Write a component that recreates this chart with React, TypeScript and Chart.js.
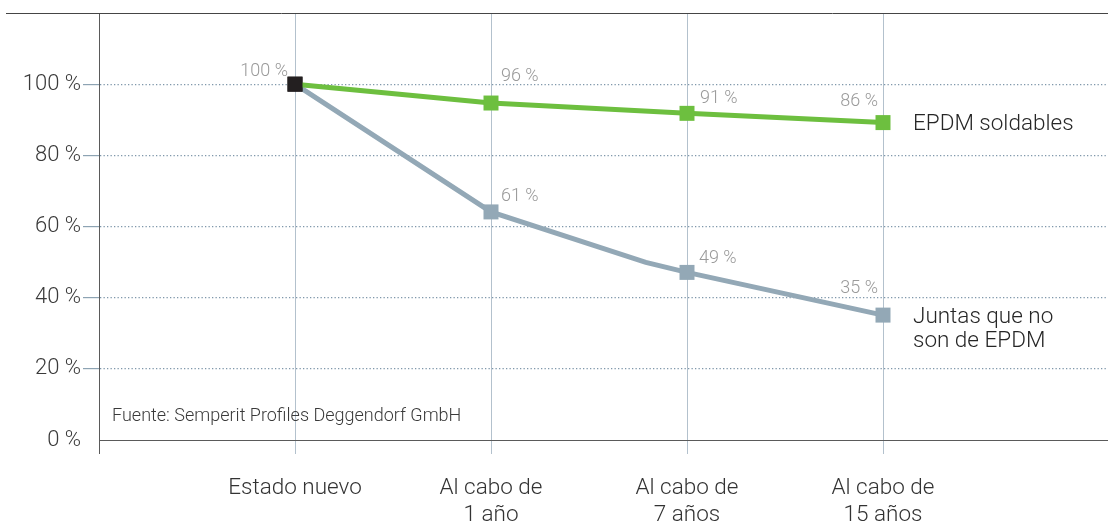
import React, { useEffect, useRef } from "react";
import { Chart, registerables } from "chart.js";

Chart.register(...registerables);

// ---------- data ----------
const categoryLabels: string[][] = [
  ["Estado nuevo"],
  ["Al cabo de", "1 año"],
  ["Al cabo de", "7 años"],
  ["Al cabo de", "15 años"],
];
const categoryPositions = [1, 2, 3, 4];

const epdmName = ["EPDM soldables"];
const epdmX = [1, 2, 3, 4];
const epdmValues = [100, 94.7, 91.8, 89.2];
const epdmValueLabels = ["100 %", "96 %", "91 %", "86 %"];

const otherName = ["Juntas que no", "son de EPDM"];
const otherX = [1, 2, 2.79, 3, 4];
const otherValues = [100, 64.1, 49.9, 47.1, 35.1];
const otherValueLabels = ["", "61 %", "", "49 %", "35 %"];
const otherHasMarker = [true, true, false, true, true];

const yTickValues = [0, 20, 40, 60, 80, 100];
const yTickLabels = ["0 %", "20 %", "40 %", "60 %", "80 %", "100 %"];

const sourceNote = "Fuente: Semperit Profiles Deggendorf GmbH";

// ---------- styles / layout ----------
const FONT = "Roboto, 'Liberation Sans', sans-serif";
const GREEN = "#6dbf3f";
const GREY = "#93a8b6";
const BLACK = "#231f20";
const DOT_GRID = "#7f97aa";
const VGRID = "#b3c1cd";
const AXIS = "#5a5a5a";

const labelPlacement: Array<Array<{ align: CanvasTextAlign; dx: number; dy: number } | null>> = [
  [
    { align: "right", dx: -7, dy: -8 },
    { align: "left", dx: 10, dy: -22 },
    { align: "left", dx: 13, dy: -10 },
    { align: "right", dx: -5, dy: -17 },
  ],
  [
    null,
    { align: "left", dx: 10, dy: -11 },
    null,
    { align: "left", dx: 12, dy: -9 },
    { align: "right", dx: -5, dy: -22 },
  ],
];

const valueLabelSets = [epdmValueLabels, otherValueLabels];
const seriesNames = [epdmName, otherName];

const annotationsPlugin = {
  id: "annotations",
  beforeDatasetsDraw(chart: any) {
    const { ctx, chartArea } = chart;
    ctx.save();
    ctx.strokeStyle = "#454545";
    ctx.lineWidth = 1;
    const y = Math.round(chartArea.top) + 0.5;
    ctx.beginPath();
    ctx.moveTo(6, y);
    ctx.lineTo(chartArea.right, y);
    ctx.stroke();

    // source note
    ctx.fillStyle = "#3a3a3a";
    ctx.font = `300 18px ${FONT}`;
    ctx.textAlign = "left";
    ctx.textBaseline = "alphabetic";
    ctx.fillText(sourceNote, chartArea.left + 13, chartArea.bottom - 19);
    ctx.restore();
  },
  afterDatasetsDraw(chart: any) {
    const { ctx } = chart;
    ctx.save();
    ctx.textBaseline = "alphabetic";
    chart.data.datasets.forEach((_ds: any, d: number) => {
      const meta = chart.getDatasetMeta(d);
      const labels = valueLabelSets[d];
      ctx.font = `300 18px ${FONT}`;
      ctx.fillStyle = "#9a9a9a";
      meta.data.forEach((pt: any, i: number) => {
        const txt = labels[i];
        const pl = labelPlacement[d][i];
        if (!txt || !pl) return;
        ctx.textAlign = pl.align;
        ctx.fillText(txt, pt.x + pl.dx, pt.y + pl.dy);
      });
      // series name
      const last = meta.data[meta.data.length - 1];
      ctx.font = `300 22.5px ${FONT}`;
      ctx.fillStyle = "#262626";
      ctx.textAlign = "left";
      seriesNames[d].forEach((line: string, k: number) => {
        ctx.fillText(line, last.x + 30, last.y + 7.5 + k * 24);
      });
    });
    ctx.restore();
  },
};

const TRANSPARENT = "rgba(0,0,0,0)";

export default function App() {
  const canvasRef = useRef<HTMLCanvasElement | null>(null);

  useEffect(() => {
    if (!canvasRef.current) return;
    const chart = new Chart(canvasRef.current, {
      type: "line",
      data: {
        datasets: [
          {
            label: epdmName.join(" "),
            data: epdmX.map((x, i) => ({ x, y: epdmValues[i] })),
            borderColor: GREEN,
            borderWidth: 5,
            backgroundColor: GREEN,
            pointStyle: "rect",
            pointRadius: 10.6,
            pointBorderWidth: 0,
            pointBackgroundColor: epdmX.map((_, i) => (i === 0 ? BLACK : GREEN)),
            tension: 0,
            fill: false,
          },
          {
            label: otherName.join(" "),
            data: otherX.map((x, i) => ({ x, y: otherValues[i] })),
            borderColor: GREY,
            borderWidth: 5,
            backgroundColor: GREY,
            pointStyle: "rect",
            pointRadius: otherHasMarker.map((m) => (m ? 10.6 : 0)),
            pointBorderWidth: 0,
            pointBackgroundColor: otherX.map((_, i) => (i === 0 ? BLACK : GREY)),
            tension: 0,
            fill: false,
          },
        ],
      },
      options: {
        animation: false,
        responsive: true,
        maintainAspectRatio: false,
        layout: { autoPadding: false, padding: { top: 13, right: 0, left: 0, bottom: 0 } },
        plugins: {
          legend: { display: false },
          tooltip: { enabled: false },
        },
        scales: {
          x: {
            type: "linear",
            min: 0,
            max: 1009 / 196,
            afterBuildTicks: (scale: any) => {
              scale.ticks = [0, ...categoryPositions].map((value) => ({ value }));
            },
            afterFit: (scale: any) => {
              scale.height = 81;
              scale.paddingLeft = 0;
              scale.paddingRight = 0;
            },
            ticks: {
              autoSkip: false,
              maxRotation: 0,
              padding: 21,
              color: "#333333",
              font: { family: FONT, size: 22.5, weight: "300", lineHeight: 1.2 },
              callback: (value: any) => {
                const idx = categoryPositions.indexOf(Number(value));
                return idx >= 0 ? categoryLabels[idx] : "";
              },
            },
            grid: {
              color: (c: any) => (c.tick && c.tick.value === 0 ? TRANSPARENT : VGRID),
              tickColor: (c: any) => (c.tick && c.tick.value === 0 ? AXIS : VGRID),
              tickLength: 14,
              lineWidth: 1,
            },
            border: { display: true, color: AXIS, width: 1 },
          },
          y: {
            type: "linear",
            min: 0,
            max: 120,
            afterBuildTicks: (scale: any) => {
              scale.ticks = [...yTickValues, 120].map((value) => ({ value }));
            },
            afterFit: (scale: any) => {
              scale.width = 99;
              scale.paddingTop = 0;
              scale.paddingBottom = 0;
            },
            ticks: {
              padding: 2,
              color: "#3a3a3a",
              font: { family: FONT, size: 22, weight: "300" },
              callback: (value: any) => {
                const idx = yTickValues.indexOf(Number(value));
                return idx >= 0 ? yTickLabels[idx] : "";
              },
            },
            grid: {
              color: (c: any) =>
                c.tick && (c.tick.value === 0 || c.tick.value === 120) ? TRANSPARENT : DOT_GRID,
              tickColor: (c: any) =>
                c.tick && (c.tick.value === 0 || c.tick.value === 120) ? TRANSPARENT : "#8da3b3",
              tickLength: 16,
              lineWidth: 1.2,
            },
            border: { display: true, color: AXIS, width: 1, dash: [1.3, 2.2] },
          },
        },
      },
      plugins: [annotationsPlugin],
    });
    return () => chart.destroy();
  }, []);

  return (
    <div style={{ position: "absolute", left: 0, top: 0, width: 1108, height: 521, background: "#fff" }}>
      <canvas ref={canvasRef} />
    </div>
  );
}
